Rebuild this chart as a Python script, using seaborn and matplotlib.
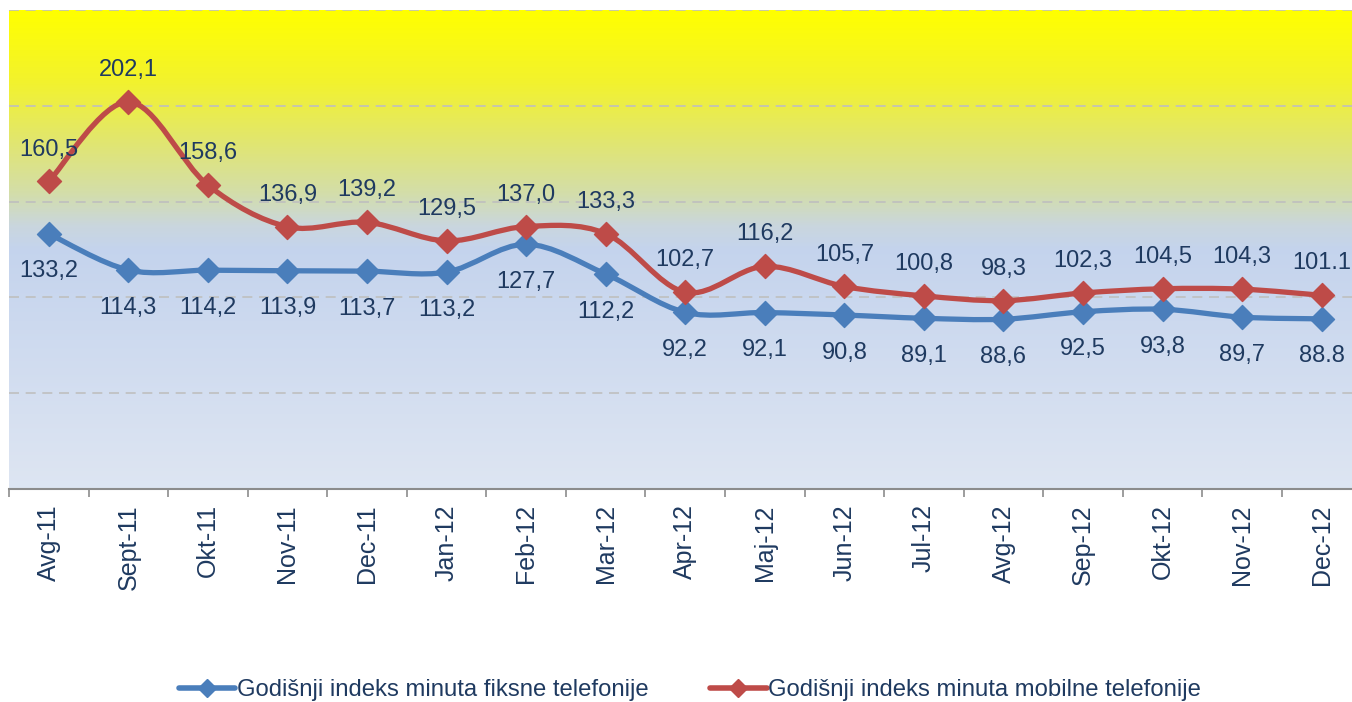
import numpy as np
import pandas as pd
import seaborn as sns
import matplotlib.pyplot as plt
from matplotlib.path import Path
from matplotlib.patches import PathPatch
from matplotlib.colors import LinearSegmentedColormap

months = ["Avg-11", "Sept-11", "Okt-11", "Nov-11", "Dec-11", "Jan-12", "Feb-12",
          "Mar-12", "Apr-12", "Maj-12", "Jun-12", "Jul-12", "Avg-12", "Sep-12",
          "Okt-12", "Nov-12", "Dec-12"]
fiksna = [133.2, 114.3, 114.2, 113.9, 113.7, 113.2, 127.7, 112.2, 92.2, 92.1,
          90.8, 89.1, 88.6, 92.5, 93.8, 89.7, 88.8]
mobilna = [160.5, 202.1, 158.6, 136.9, 139.2, 129.5, 137.0, 133.3, 102.7, 116.2,
           105.7, 100.8, 98.3, 102.3, 104.5, 104.3, 101.1]
fiksna_lbl = ["133,2", "114,3", "114,2", "113,9", "113,7", "113,2", "127,7", "112,2",
              "92,2", "92,1", "90,8", "89,1", "88,6", "92,5", "93,8", "89,7", "88.8"]
mobilna_lbl = ["160,5", "202,1", "158,6", "136,9", "139,2", "129,5", "137,0", "133,3",
               "102,7", "116,2", "105,7", "100,8", "98,3", "102,3", "104,5", "104,3", "101.1"]
names = ["Godišnji indeks minuta fiksne telefonije",
         "Godišnji indeks minuta mobilne telefonije"]

BLUE = "#4A7EBB"
RED = "#BE4B48"
NAVY = "#1F3A60"

sns.set_style("white")
plt.rcParams["font.family"] = ["Liberation Sans", "DejaVu Sans"]

df = pd.DataFrame({"mjesec": months * 2,
                   "x": list(range(len(months))) * 2,
                   "indeks": fiksna + mobilna,
                   "serija": [names[0]] * len(months) + [names[1]] * len(months)})

fig = plt.figure(figsize=(13.52, 7.02), dpi=100)
W, H = 1352, 702
ax = fig.add_axes([9 / W, (H - 489) / H, 1352.5 / W, 479 / H])
ax.set_xlim(-0.5, 16.5)
ax.set_ylim(0, 250)

# gradient background (yellow on top fading to pale blue)
grad = LinearSegmentedColormap.from_list("bg", [
    (0.0, (0.87, 0.90, 0.95)),
    (0.50, (0.77, 0.83, 0.93)),
    (0.55, (0.79, 0.84, 0.87)),
    (0.62, (0.83, 0.87, 0.66)),
    (0.72, (0.88, 0.90, 0.45)),
    (0.85, (0.95, 0.95, 0.18)),
    (1.0, (1.0, 1.0, 0.0))])
ax.imshow(np.linspace(0, 1, 256).reshape(-1, 1), cmap=grad, aspect="auto",
          extent=(-0.5, 16.5, 0, 250), origin="lower", zorder=0)

for g in [50, 100, 150, 200, 250]:
    ax.axhline(g, color="#BFBFBF", lw=1.2, ls=(0, (6, 4)), zorder=1)


def smooth_path(xs, ys):
    pts = np.column_stack([xs, ys])
    verts = [pts[0]]
    codes = [Path.MOVETO]
    n = len(pts)
    for i in range(n - 1):
        p0 = pts[i - 1] if i > 0 else pts[i]
        p1, p2 = pts[i], pts[i + 1]
        p3 = pts[i + 2] if i + 2 < n else pts[i + 1]
        verts += [p1 + (p2 - p0) / 6, p2 - (p3 - p1) / 6, p2]
        codes += [Path.CURVE4] * 3
    return Path(verts, codes)


for name, col, lbls, off in [(names[0], BLUE, fiksna_lbl, -27),
                             (names[1], RED, mobilna_lbl, 23)]:
    sub = df[df["serija"] == name]
    ax.add_patch(PathPatch(smooth_path(sub["x"].values, sub["indeks"].values),
                           fc="none", ec=col, lw=3.8, zorder=3, capstyle="round"))
    sns.scatterplot(data=sub, x="x", y="indeks", ax=ax, marker="D", s=150,
                    color=col, edgecolor=col, zorder=4, legend=False)
    for x, y, t in zip(sub["x"], sub["indeks"], lbls):
        ax.annotate(t, (x, y), xytext=(0, off), textcoords="offset points",
                    ha="center", va="center", fontsize=17, color=NAVY, zorder=5)

ax.set_xticks(range(len(months)))
ax.set_xticklabels(months, rotation=90, fontsize=18, color=NAVY)
ax.set_xticks(np.arange(-0.5, 16.6, 1), minor=True)
ax.tick_params(axis="x", which="major", length=0, pad=11)
ax.tick_params(axis="x", which="minor", length=6, width=1.2, color="#8C8C8C", bottom=True)
ax.set_yticks([])
ax.set_xlabel("")
ax.set_ylabel("")
for s in ["top", "right", "left"]:
    ax.spines[s].set_visible(False)
ax.spines["bottom"].set_color("#8C8C8C")
ax.spines["bottom"].set_linewidth(1.5)

handles = [plt.Line2D([], [], color=c, lw=4, marker="D", markersize=9)
           for c in [BLUE, RED]]
leg = fig.legend(handles, names, loc="center", bbox_to_anchor=(690 / W, 1 - 690 / H),
                 ncol=2, frameon=False, fontsize=17.2, handlelength=2.35,
                 handletextpad=0.05, columnspacing=2.6, labelcolor=NAVY)

fig.savefig("out.png", dpi=100)
